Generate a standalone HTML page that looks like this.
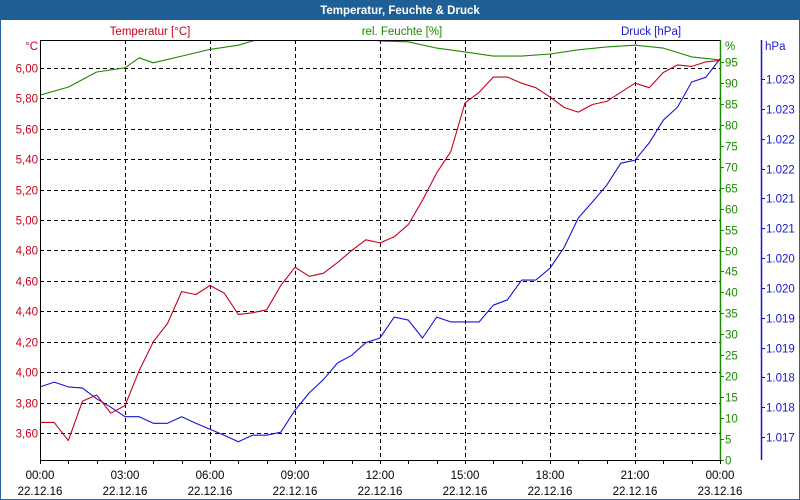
<!DOCTYPE html>
<html><head><meta charset="utf-8"><style>
html,body{margin:0;padding:0;background:#fff}
svg{display:block;font-family:"Liberation Sans","DejaVu Sans",sans-serif;font-size:11.5px}
</style></head><body>
<svg id="chart" width="800" height="500" viewBox="0 0 800 500">
<rect x="0" y="0" width="800" height="500" fill="#fff"/>
<rect x="0.5" y="0.5" width="799" height="499" fill="none" stroke="#2a64a0"/>
<rect x="0" y="0" width="800" height="20" fill="#1e5f96"/>
<text x="400" y="14" text-anchor="middle" fill="#fff" font-weight="bold">Temperatur, Feuchte &amp; Druck</text>
<text x="150" y="35" text-anchor="middle" fill="#c8001e">Temperatur [°C]</text>
<text x="402" y="35" text-anchor="middle" fill="#1a8a00">rel. Feuchte [%]</text>
<text x="651" y="35" text-anchor="middle" fill="#1a1ad0">Druck [hPa]</text>
<text x="38" y="50" text-anchor="end" fill="#c8001e">°C</text>
<text x="725" y="50" fill="#1a8a00">%</text>
<text x="765" y="50" fill="#1a1ad0">hPa</text>
<g id="grid"></g><g id="series"></g><g id="axes"></g>
</svg>
<script>
const hours = [0,0.5,1,1.5,2,2.5,3,3.5,4,4.5,5,5.5,6,6.5,7,7.5,8,8.5,9,9.5,10,10.5,11,11.5,12,12.5,13,13.5,14,14.5,15,15.5,16,16.5,17,17.5,18,18.5,19,19.5,20,20.5,21,21.5,22,22.5,23,23.5,24];
const temperature = [3.67,3.67,3.55,3.81,3.85,3.73,3.78,4.01,4.20,4.32,4.53,4.51,4.57,4.52,4.38,4.39,4.41,4.57,4.69,4.63,4.65,4.72,4.80,4.87,4.85,4.89,4.97,5.13,5.31,5.45,5.77,5.84,5.94,5.94,5.90,5.87,5.81,5.74,5.71,5.76,5.78,5.84,5.90,5.87,5.97,6.02,6.01,6.04,6.05];
const pressure = [1.01784,1.01792,1.01784,1.01782,1.01764,1.01750,1.01734,1.01734,1.01723,1.01723,1.01734,1.01723,1.01713,1.01703,1.01692,1.01703,1.01703,1.01708,1.01745,1.01774,1.01796,1.01824,1.01837,1.01858,1.01866,1.01901,1.01896,1.01866,1.01901,1.01893,1.01893,1.01893,1.01921,1.01930,1.01963,1.01963,1.01983,1.02018,1.02067,1.02094,1.02122,1.02159,1.02164,1.02193,1.02231,1.02253,1.02295,1.02303,1.02334];
const humHours = [0,1,2,3,3.5,4,5,6,7,7.5,8,9,10,11,12,13,14,15,16,17,18,19,20,21,22,23,24];
const humidity = [87.1,89,92.6,93.6,96,94.8,96.4,98,99,100,101,102,102,101,100,99.8,98.3,97.4,96.4,96.4,96.9,97.9,98.6,99,98.3,96.2,95.5];
const tempTicks = [3.6,3.8,4.0,4.2,4.4,4.6,4.8,5.0,5.2,5.4,5.6,5.8,6.0];
const tempTickLabels = ["3,60","3,80","4,00","4,20","4,40","4,60","4,80","5,00","5,20","5,40","5,60","5,80","6,00"];
const humTicks = [0,5,10,15,20,25,30,35,40,45,50,55,60,65,70,75,80,85,90,95];
const presTicks = [1.017,1.0175,1.018,1.0185,1.019,1.0195,1.020,1.0205,1.021,1.0215,1.022,1.0225,1.023];
const presTickLabels = ["1.017","1.018","1.018","1.019","1.019","1.020","1.020","1.021","1.021","1.022","1.022","1.023","1.023"];
const timeLabels = ["00:00","03:00","06:00","09:00","12:00","15:00","18:00","21:00","00:00"];
const dateLabels = ["22.12.16","22.12.16","22.12.16","22.12.16","22.12.16","22.12.16","22.12.16","22.12.16","23.12.16"];

const L=40,R=720,T=40,B=460;
const xS=h=>L+h*(R-L)/24;
const yT=v=>433-(v-3.6)/0.2*30.42;
const yH=v=>460-v/5*20.95;
const yP=v=>437-(v-1.017)/0.0005*29.83;
const NS="http://www.w3.org/2000/svg";
function mk(tag,attrs,parent,txt){const e=document.createElementNS(NS,tag);for(const k in attrs)e.setAttribute(k,attrs[k]);if(txt!==undefined)e.textContent=txt;parent.appendChild(e);return e;}
const grid=document.getElementById('grid'),ser=document.getElementById('series'),axes=document.getElementById('axes');
const svgEl=document.getElementById('chart');
const clip=mk('clipPath',{id:'pc'},svgEl);mk('rect',{x:L,y:T,width:R-L,height:B-T},clip);
ser.setAttribute('clip-path','url(#pc)');
tempTicks.forEach((v,i)=>{const y=Math.round(yT(v))+0.5;
 const g=mk('line',{x1:L,x2:R,y1:y,y2:y,stroke:'#000','stroke-dasharray':'4,3'},grid);
 
 
 const t=mk('text',{x:38,y:y+4,'text-anchor':'end',fill:'#c8001e'},axes,tempTickLabels[i]);
 
 
});
for(let k=1;k<8;k++){const x=Math.round(xS(k*3))+0.5;
 const g=mk('line',{x1:x,x2:x,y1:T,y2:B,stroke:'#000','stroke-dasharray':'4,3'},grid);
 
 
}
function poly(xs,ys,fx,fy,color,name){const pts=xs.map((h,i)=>fx(h).toFixed(1)+','+fy(ys[i]).toFixed(1)).join(' ');
 const p=mk('polyline',{points:pts,fill:'none',stroke:color,'stroke-width':1.1,'stroke-linejoin':'round'},ser);
 
 }
poly(humHours,humidity,xS,yH,'#1a8a00','humidity-line');
poly(hours,pressure,xS,yP,'#1414d8','pressure-line');
poly(hours,temperature,xS,yT,'#c8001e','temperature-line');
let a=mk('line',{x1:L+0.5,x2:L+0.5,y1:T,y2:B,stroke:'#000'},axes);
a=mk('line',{x1:L,x2:R,y1:B+0.5,y2:B+0.5,stroke:'#000'},axes);
a=mk('line',{x1:L,x2:R,y1:T+0.5,y2:T+0.5,stroke:'#000'},axes);
a=mk('line',{x1:R+0.5,x2:R+0.5,y1:T,y2:B,stroke:'#1a8a00','stroke-width':1.5},axes);
a=mk('line',{x1:761.5,x2:761.5,y1:T,y2:B,stroke:'#1414d8','stroke-width':1.5},axes);
humTicks.forEach(v=>{const y=Math.round(yH(v))+0.5;
 mk('line',{x1:R,x2:R+4,y1:y,y2:y,stroke:'#1a8a00'},axes);
 const t=mk('text',{x:725,y:y+4,fill:'#1a8a00'},axes,String(v));
 
 });
presTicks.forEach((v,i)=>{const y=Math.round(yP(v))+0.5;
 mk('line',{x1:761,x2:765,y1:y,y2:y,stroke:'#1414d8'},axes);
 const t=mk('text',{x:766,y:y+4,fill:'#1414d8'},axes,presTickLabels[i]);
 
 });
for(let h=0;h<=24;h++){const x=Math.round(xS(h))+0.5;mk('line',{x1:x,x2:x,y1:B,y2:B+4,stroke:'#000'},axes);}
timeLabels.forEach((s,i)=>{const x=xS(i*3);
 const t=mk('text',{x:x,y:479,'text-anchor':'middle',fill:'#000'},axes,s);
 
 
 const d=mk('text',{x:x,y:495,'text-anchor':'middle',fill:'#000'},axes,dateLabels[i]);
 
 });
</script>
</body></html>
